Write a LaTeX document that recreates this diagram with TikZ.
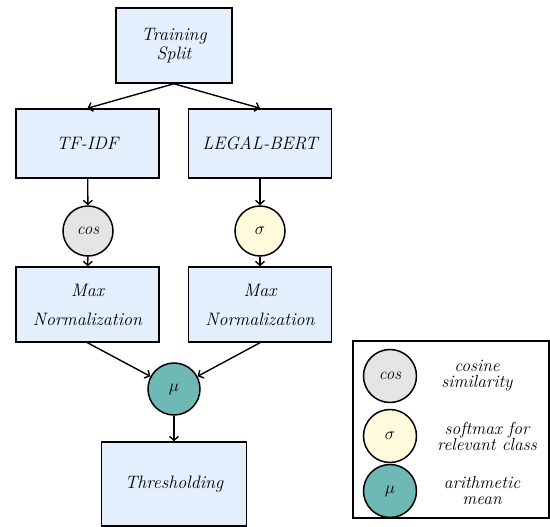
\documentclass[tikz,border=0pt]{standalone}
\usetikzlibrary{arrows.meta}
\definecolor{boxfill}{HTML}{E3EFFD}
\definecolor{cosfill}{HTML}{E5E5E5}
\definecolor{sigfill}{HTML}{FFFADC}
\definecolor{mufill}{HTML}{6EB8B6}
\begin{document}
\begin{tikzpicture}[x=1pt,y=-1pt,
  stepbox/.style={draw=black,line width=1.5pt,fill=boxfill,minimum width=143pt,inner sep=0pt,align=center,font=\fontsize{18}{19}\selectfont\itshape},
  opnode/.style={draw=black,line width=1.5pt,circle,minimum size=50pt,inner sep=0pt,font=\fontsize{17}{18}\selectfont\itshape},
  legtext/.style={align=center,font=\fontsize{17.5}{16}\selectfont\itshape},
  conn/.style={line width=1.4pt,-{Straight Barb[length=4pt,width=9pt]}}]
\useasboundingbox (0,0) rectangle (550,527);
\node[stepbox,minimum width=116pt,minimum height=75pt] (train) at (174,45.5) {Training\\Split};
\node[stepbox,minimum height=69pt] (tfidf) at (87.5,143.5) {TF-IDF};
\node[stepbox,minimum height=69pt] (bert) at (260,143.5) {LEGAL-BERT};
\node[opnode,fill=cosfill] (cos) at (88,231) {cos};
\node[opnode,fill=sigfill] (sig) at (260,231) {$\sigma$};
\node[stepbox,minimum height=75pt] (mn1) at (87.5,304.5) {Max\\[10pt]Normalization};
\node[stepbox,minimum height=75pt] (mn2) at (260,304.5) {Max\\[10pt]Normalization};
\node[opnode,fill=mufill,minimum size=52pt] (mu) at (174,389) {$\mu$};
\node[stepbox,minimum width=145pt,minimum height=84pt] (thr) at (174,484) {Thresholding};
\draw[conn] (train.south) -- (tfidf.north);
\draw[conn] (train.south) -- (bert.north);
\draw[conn] (tfidf) -- (cos);
\draw[conn] (bert) -- (sig);
\draw[conn] (cos) -- (mn1);
\draw[conn] (sig) -- (mn2);
\draw[conn] (mn1.south) -- (mu);
\draw[conn] (mn2.south) -- (mu);
\draw[conn] (mu) -- (thr);
\node[draw=black,line width=1.5pt,minimum width=196pt,minimum height=177pt,inner sep=0pt] (legend) at (451,429.5) {};
\node[opnode,fill=cosfill,minimum size=53pt] (lcos) at (390,376) {cos};
\node[opnode,fill=sigfill,minimum size=53pt] (lsig) at (390,436) {$\sigma$};
\node[opnode,fill=mufill,minimum size=53pt] (lmu) at (390,491) {$\mu$};
\node[legtext] (tcos) at (477,376) {cosine\\similarity};
\node[legtext] (tsig) at (487,436) {softmax for\\relevant class};
\node[legtext] (tmu) at (482,491) {arithmetic\\mean};
\end{tikzpicture}
\end{document}
